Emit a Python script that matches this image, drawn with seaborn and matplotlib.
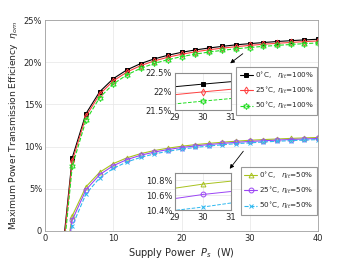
import numpy as np
import pandas as pd
import seaborn as sns
import matplotlib.pyplot as plt
from matplotlib.ticker import FuncFormatter

# Supply power (W)
power = [2, 4, 6, 8, 10, 12, 14, 16, 18, 20, 22, 24, 26, 28, 30, 32, 34, 36, 38, 40]

# Efficiency (%)
eff_0c_100 = [-6.87, 8.70, 13.90, 16.49, 18.05, 19.09, 19.83, 20.39, 20.82, 21.17,
              21.45, 21.68, 21.88, 22.06, 22.20, 22.33, 22.45, 22.55, 22.64, 22.72]
eff_25c_100 = [-7.50, 8.30, 13.57, 16.20, 17.78, 18.83, 19.59, 20.15, 20.59, 20.94,
               21.23, 21.47, 21.67, 21.84, 21.99, 22.13, 22.24, 22.34, 22.44, 22.52]
eff_50c_100 = [-8.50, 7.70, 13.10, 15.80, 17.42, 18.50, 19.27, 19.85, 20.30, 20.66,
               20.95, 21.20, 21.41, 21.59, 21.74, 21.88, 21.99, 22.10, 22.20, 22.28]
eff_0c_50 = [-8.50, 1.80, 5.23, 6.95, 7.98, 8.67, 9.16, 9.53, 9.81, 10.04,
             10.23, 10.38, 10.52, 10.64, 10.75, 10.83, 10.90, 10.97, 11.03, 11.08]
eff_25c_50 = [-9.42, 1.30, 4.88, 6.67, 7.74, 8.46, 8.97, 9.35, 9.65, 9.89,
              10.08, 10.24, 10.38, 10.50, 10.61, 10.69, 10.77, 10.84, 10.90, 10.96]
eff_50c_50 = [-10.78, 0.60, 4.39, 6.28, 7.42, 8.18, 8.72, 9.13, 9.44, 9.70,
              9.90, 10.07, 10.22, 10.35, 10.44, 10.55, 10.63, 10.71, 10.77, 10.83]

labels_100 = ["0$^{\\circ}$C,   $\\eta_{lt}$=100%",
              "25$^{\\circ}$C, $\\eta_{lt}$=100%",
              "50$^{\\circ}$C, $\\eta_{lt}$=100%"]
labels_50 = ["0$^{\\circ}$C,   $\\eta_{lt}$=50%",
             "25$^{\\circ}$C, $\\eta_{lt}$=50%",
             "50$^{\\circ}$C, $\\eta_{lt}$=50%"]

styles_100 = [
    dict(color="black", marker="s", markersize=2.5, markerfacecolor="black", linestyle="-"),
    dict(color="#ff4040", marker="d", markersize=3.5, markerfacecolor="none", linestyle="-"),
    dict(color="#22dd22", marker=(6, 1, 0), markersize=4.5, markerfacecolor="none", linestyle="--"),
]
styles_50 = [
    dict(color="#a8c21e", marker="^", markersize=3.5, markerfacecolor="none", linestyle="-"),
    dict(color="#9b45f5", marker="o", markersize=3.5, markerfacecolor="none", linestyle="-"),
    dict(color="#2eb8f0", marker="x", markersize=3, markerfacecolor="none", linestyle="--"),
]

sns.set_theme(style="white")
plt.rcParams["font.family"] = ["DejaVu Sans"]

W, H = 350, 263
fig = plt.figure(figsize=(3.5, 2.63), dpi=100)
ax = fig.add_axes([45 / W, 1 - 231 / H, 273 / W, 211 / H])

series_100 = [eff_0c_100, eff_25c_100, eff_50c_100]
series_50 = [eff_0c_50, eff_25c_50, eff_50c_50]


def draw(target, lw=0.8, with_label=True):
    for vals, lab, st in zip(series_100 + series_50, labels_100 + labels_50, styles_100 + styles_50):
        frame = pd.DataFrame({"p": power, "eff": vals})
        sns.lineplot(data=frame, x="p", y="eff", ax=target, linewidth=lw,
                     markeredgewidth=0.7, markeredgecolor=st["color"],
                     label=lab if with_label else None, **st)


draw(ax)
ax.set_xlim(0, 40)
ax.set_ylim(0, 25)
ax.set_xticks([0, 10, 20, 30, 40])
ax.set_yticks([0, 5, 10, 15, 20, 25])
ax.yaxis.set_major_formatter(FuncFormatter(lambda v, _: "0" if v == 0 else f"{v:g}%"))
ax.grid(True, color="#e6e6e6", linewidth=0.5)
ax.tick_params(direction="in", length=2, labelsize=6, colors="#262626", pad=2)
for s in ax.spines.values():
    s.set_color("#a0a0a0")
    s.set_linewidth(0.6)
ax.set_xlabel("Supply Power  $P_s$  (W)", fontsize=7, color="#262626", labelpad=2)
ax.set_ylabel("Maximum Power Transmission Efficiency  $\\eta_{om}$", fontsize=6.6,
              color="#262626", labelpad=3)

handles, labs = ax.get_legend_handles_labels()
ax.get_legend().remove()
leg_kw = dict(loc="upper right", fontsize=5.2, frameon=True, fancybox=False, edgecolor="#7f7f7f",
              handlelength=1.8, borderpad=0.45, labelspacing=0.6, handletextpad=0.3,
              borderaxespad=0)
leg1 = fig.legend(handles[:3], labs[:3], bbox_to_anchor=(317 / W, 1 - 67 / H), **leg_kw)
leg1.get_frame().set_linewidth(0.8)
leg2 = fig.legend(handles[3:], labs[3:], bbox_to_anchor=(317 / W, 1 - 167 / H), **leg_kw)
leg2.get_frame().set_linewidth(0.8)

# Zoom insets
in1 = fig.add_axes([175 / W, 1 - 110 / H, 56 / W, 37 / H])
draw(in1, lw=0.7, with_label=False)
in1.set_xlim(29, 31)
in1.set_ylim(21.5, 22.5)
in1.set_yticks([21.5, 22, 22.5])
in1.set_yticklabels(["21.5%", "22%", "22.5%"])

in2 = fig.add_axes([175 / W, 1 - 210 / H, 56 / W, 37 / H])
draw(in2, lw=0.7, with_label=False)
in2.set_xlim(29, 31)
in2.set_ylim(10.4, 10.9)
in2.set_yticks([10.4, 10.6, 10.8])
in2.set_yticklabels(["10.4%", "10.6%", "10.8%"])

for a in (in1, in2):
    a.set_facecolor("white")
    a.set_xticks([29, 30, 31])
    a.set_xlabel("")
    a.set_ylabel("")
    a.grid(True, color="#e6e6e6", linewidth=0.5)
    a.tick_params(direction="in", length=1.5, labelsize=6, colors="#262626", pad=2)
    for s in a.spines.values():
        s.set_color("#8c8c8c")
        s.set_linewidth(0.8)

# Arrows pointing to the zoomed regions
ax.annotate("", xy=(228 / W, 1 - 65 / H), xytext=(245 / W, 1 - 52 / H),
            xycoords="figure fraction", textcoords="figure fraction",
            arrowprops=dict(arrowstyle="-|>", color="black", lw=0.6, mutation_scale=6))
ax.annotate("", xy=(228 / W, 1 - 171 / H), xytext=(245 / W, 1 - 149 / H),
            xycoords="figure fraction", textcoords="figure fraction",
            arrowprops=dict(arrowstyle="-|>", color="black", lw=0.6, mutation_scale=6))

fig.savefig("out.png", dpi=100)
